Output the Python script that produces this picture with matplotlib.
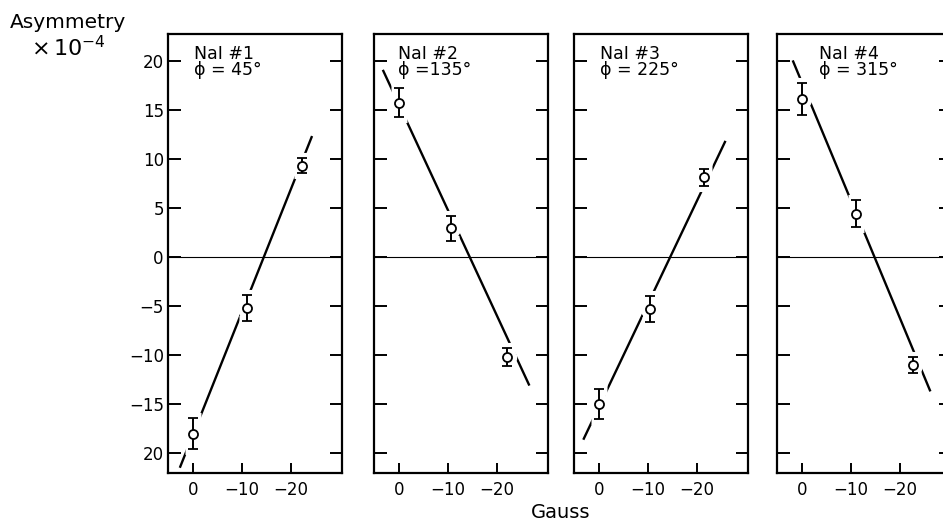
import numpy as np
import matplotlib.pyplot as plt

# Datos (asimetría en unidades de 1e-4, campo en gauss)
detectores = ['NaI #1', 'NaI #2', 'NaI #3', 'NaI #4']
angulos = ['ϕ = 45°', 'ϕ =135°', 'ϕ = 225°', 'ϕ = 315°']

campo_1 = [0, -11.0, -22.2]
campo_2 = [0, -10.7, -22.1]
campo_3 = [0, -10.5, -21.5]
campo_4 = [0, -11.1, -22.7]

asim_1 = [-18.0, -5.2, 9.3]
asim_2 = [15.7, 2.9, -10.2]
asim_3 = [-15.0, -5.3, 8.1]
asim_4 = [16.1, 4.4, -11.0]

err_1 = [1.6, 1.3, 0.8]
err_2 = [1.5, 1.3, 0.9]
err_3 = [1.55, 1.3, 0.85]
err_4 = [1.6, 1.35, 0.85]

# Rectas ajustadas: ordenada, pendiente, tramo en x
ordenada = [-18.1, 15.5, -15.25, 17.74]
pendiente = [-1.252, 1.075, -1.049, 1.2]
x_ini = [2.6, 3.2, 3.1, 1.8]
x_fin = [-24.2, -26.5, -25.7, -26.1]

yticks = [20, 15, 10, 5, 0, -5, -10, -15, -20]
ytick_labels = ['20', '15', '10', '5', '0', '−5', '−10', '−15', '20']
xticks = [0, -10, -20]
xtick_labels = ['0', '−10', '−20']

campos = [campo_1, campo_2, campo_3, campo_4]
asims = [asim_1, asim_2, asim_3, asim_4]
errs = [err_1, err_2, err_3, err_4]

W, H = 943, 524
fig = plt.figure(figsize=(W / 100, H / 100), dpi=100)

lefts = [168, 374, 574, 777]
text_x = [0.15, 0.138, 0.15, 0.24]

for i in range(4):
    ax = fig.add_axes([lefts[i] / W, 1 - 473 / H, 174 / W, 439 / H])
    ax.set_xlim(5.1, -30.4)
    ax.set_ylim(-22.0, 22.7)

    ax.axhline(0, color='black', lw=0.8, zorder=1)

    xs = np.array([x_ini[i], x_fin[i]])
    ax.plot(xs, ordenada[i] + pendiente[i] * xs, color='black', lw=1.7, zorder=2)

    # fondo blanco que corta la recta alrededor de cada punto
    ax.errorbar(campos[i], asims[i], yerr=errs[i], fmt='o', color='white',
                mfc='white', mec='white', ms=13, elinewidth=10,
                capsize=6, capthick=8, zorder=2.5)
    ax.errorbar(campos[i], asims[i], yerr=errs[i], fmt='o', color='black',
                mfc='white', mec='black', ms=6.5, mew=1.3, elinewidth=1.4,
                capsize=3.5, capthick=1.4, zorder=3)

    ax.text(text_x[i], 0.975, detectores[i] + '\n' + angulos[i], transform=ax.transAxes,
            ha='left', va='top', fontsize=12.5, linespacing=0.85)

    ax.set_xticks(xticks)
    ax.set_xticklabels(xtick_labels, fontsize=12)
    ax.set_yticks(yticks)
    if i == 0:
        ax.set_yticklabels(ytick_labels, fontsize=12)
    else:
        ax.set_yticklabels([])
    ax.tick_params(axis='y', direction='in', left=True, right=True, length=9, width=1.4, pad=3)
    ax.tick_params(axis='x', direction='in', top=False, length=7, width=1.4, pad=6)
    for s in ax.spines.values():
        s.set_linewidth(1.6)

fig.text(68 / W, 1 - 22 / H, 'Asymmetry', ha='center', va='center', fontsize=14.5)
fig.text(68 / W, 1 - 48 / H, r'$\times\,10^{-4}$', ha='center', va='center', fontsize=16)
fig.text(561 / W, 1 - 512 / H, 'Gauss', ha='center', va='center', fontsize=14)

fig.savefig('out.png', dpi=100)
